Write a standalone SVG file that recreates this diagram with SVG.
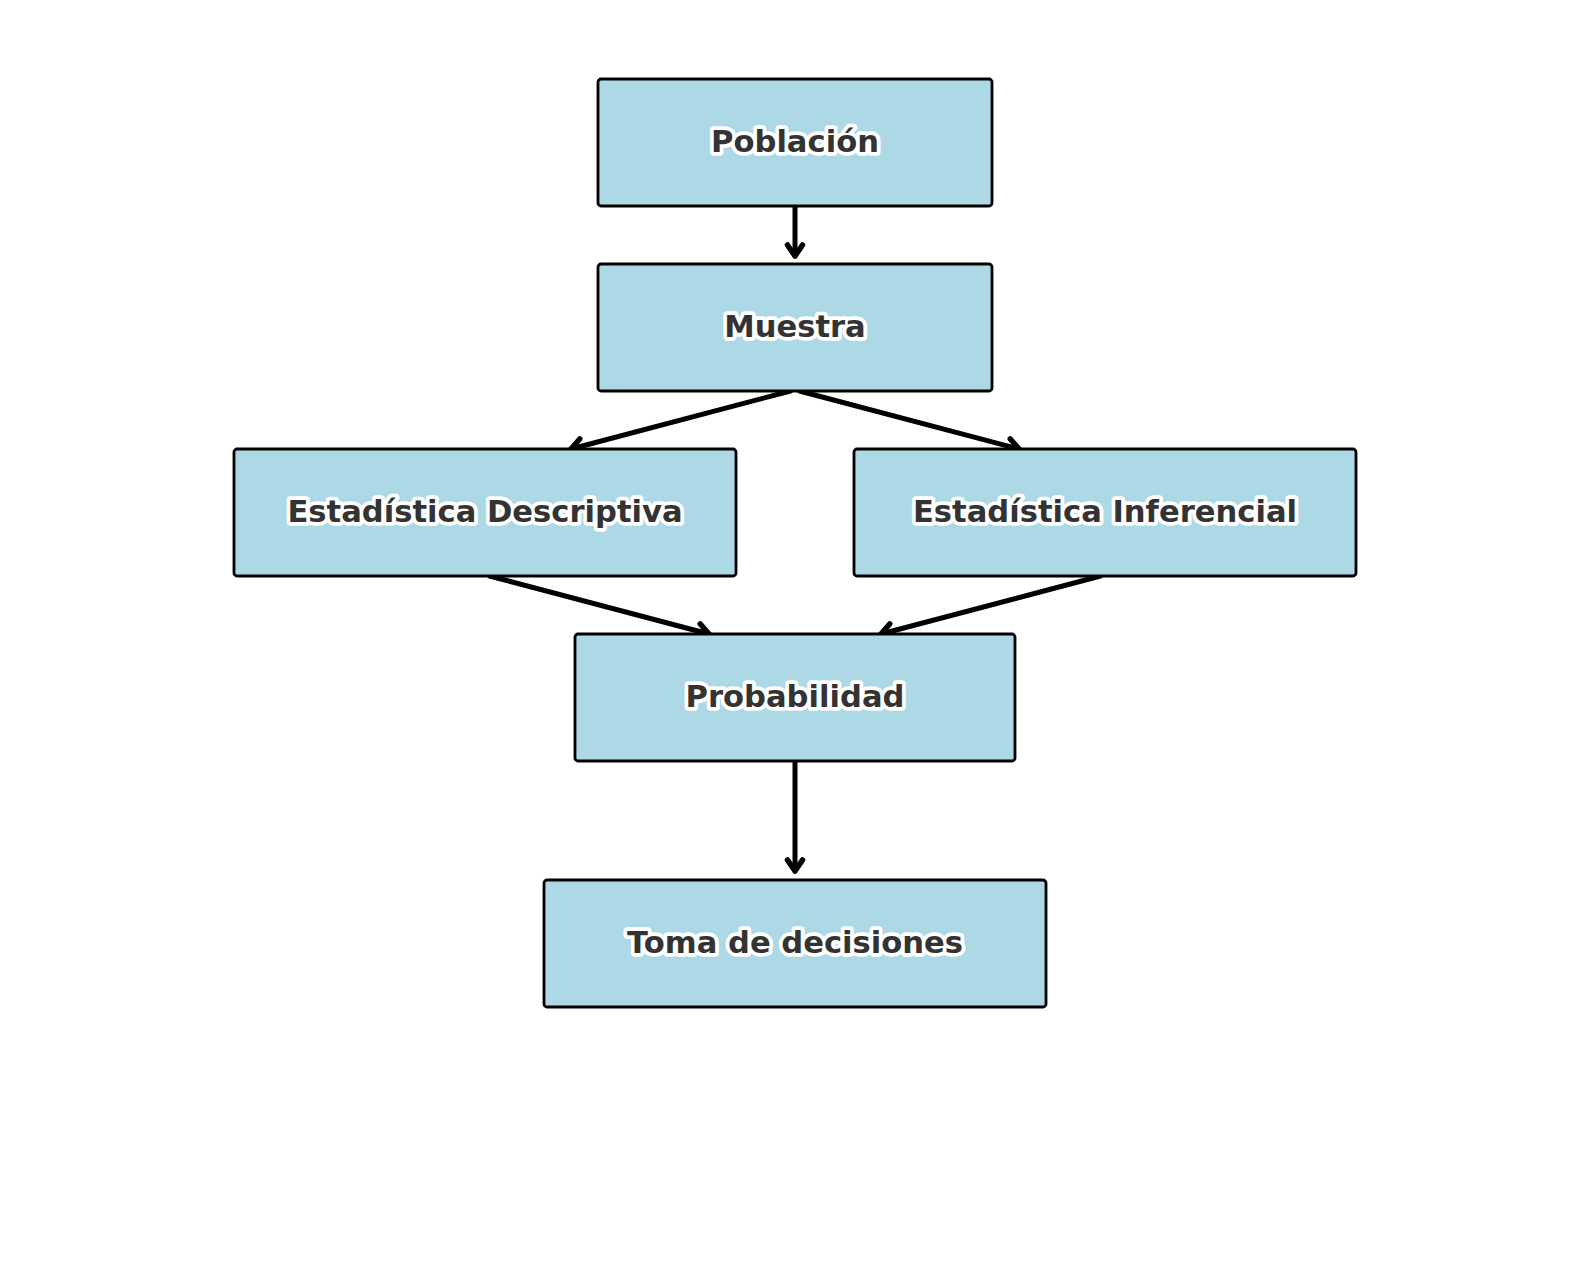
<svg xmlns="http://www.w3.org/2000/svg" width="1589" height="1272" viewBox="0 0 1589 1272">
<defs>
<style>
.box{fill:#ADD8E6;stroke:#000;stroke-width:2.8}
.lbl{font-family:"DejaVu Sans","Liberation Sans",sans-serif;font-weight:bold;font-size:30.6px;fill:#333333;stroke:#ffffff;stroke-width:7.5;paint-order:stroke;stroke-linejoin:round;text-anchor:middle}
.edge{stroke:#000;stroke-width:5;fill:none;stroke-linecap:round}
</style>
<marker id="arr" viewBox="-18 -12 24 24" refX="0" refY="0" markerWidth="24" markerHeight="24" markerUnits="userSpaceOnUse" orient="auto">
<path d="M-11,-7.5 L0,0 L-11,7.5" fill="none" stroke="#000" stroke-width="5.5" stroke-linecap="round" stroke-linejoin="round"/>
</marker>
</defs>
<rect width="1589" height="1272" fill="#ffffff"/>
<g id="connectors">
<line class="edge" x1="795" y1="208" x2="795" y2="256" marker-end="url(#arr)"/>
<line class="edge" x1="790.5" y1="391" x2="571" y2="449" marker-end="url(#arr)"/>
<line class="edge" x1="799.5" y1="391" x2="1019" y2="449" marker-end="url(#arr)"/>
<line class="edge" x1="489.5" y1="576" x2="709" y2="634" marker-end="url(#arr)"/>
<line class="edge" x1="1100.5" y1="576" x2="881" y2="634" marker-end="url(#arr)"/>
<line class="edge" x1="795" y1="763" x2="795" y2="871" marker-end="url(#arr)"/>
</g>
<g id="poblacion">
<rect class="box" x="598" y="79" width="394" height="127" rx="3"/>
<text class="lbl" x="795" y="152">Población</text>
</g>
<g id="muestra">
<rect class="box" x="598" y="264" width="394" height="127" rx="3"/>
<text class="lbl" x="795" y="337">Muestra</text>
</g>
<g id="descriptiva">
<rect class="box" x="234" y="449" width="502" height="127" rx="3"/>
<text class="lbl" x="485" y="522">Estadística Descriptiva</text>
</g>
<g id="inferencial">
<rect class="box" x="854" y="449" width="502" height="127" rx="3"/>
<text class="lbl" x="1105" y="522">Estadística Inferencial</text>
</g>
<g id="probabilidad">
<rect class="box" x="575" y="634" width="440" height="127" rx="3"/>
<text class="lbl" x="795" y="707">Probabilidad</text>
</g>
<g id="toma">
<rect class="box" x="544" y="880" width="502" height="127" rx="3"/>
<text class="lbl" x="795" y="953">Toma de decisiones</text>
</g>
</svg>
